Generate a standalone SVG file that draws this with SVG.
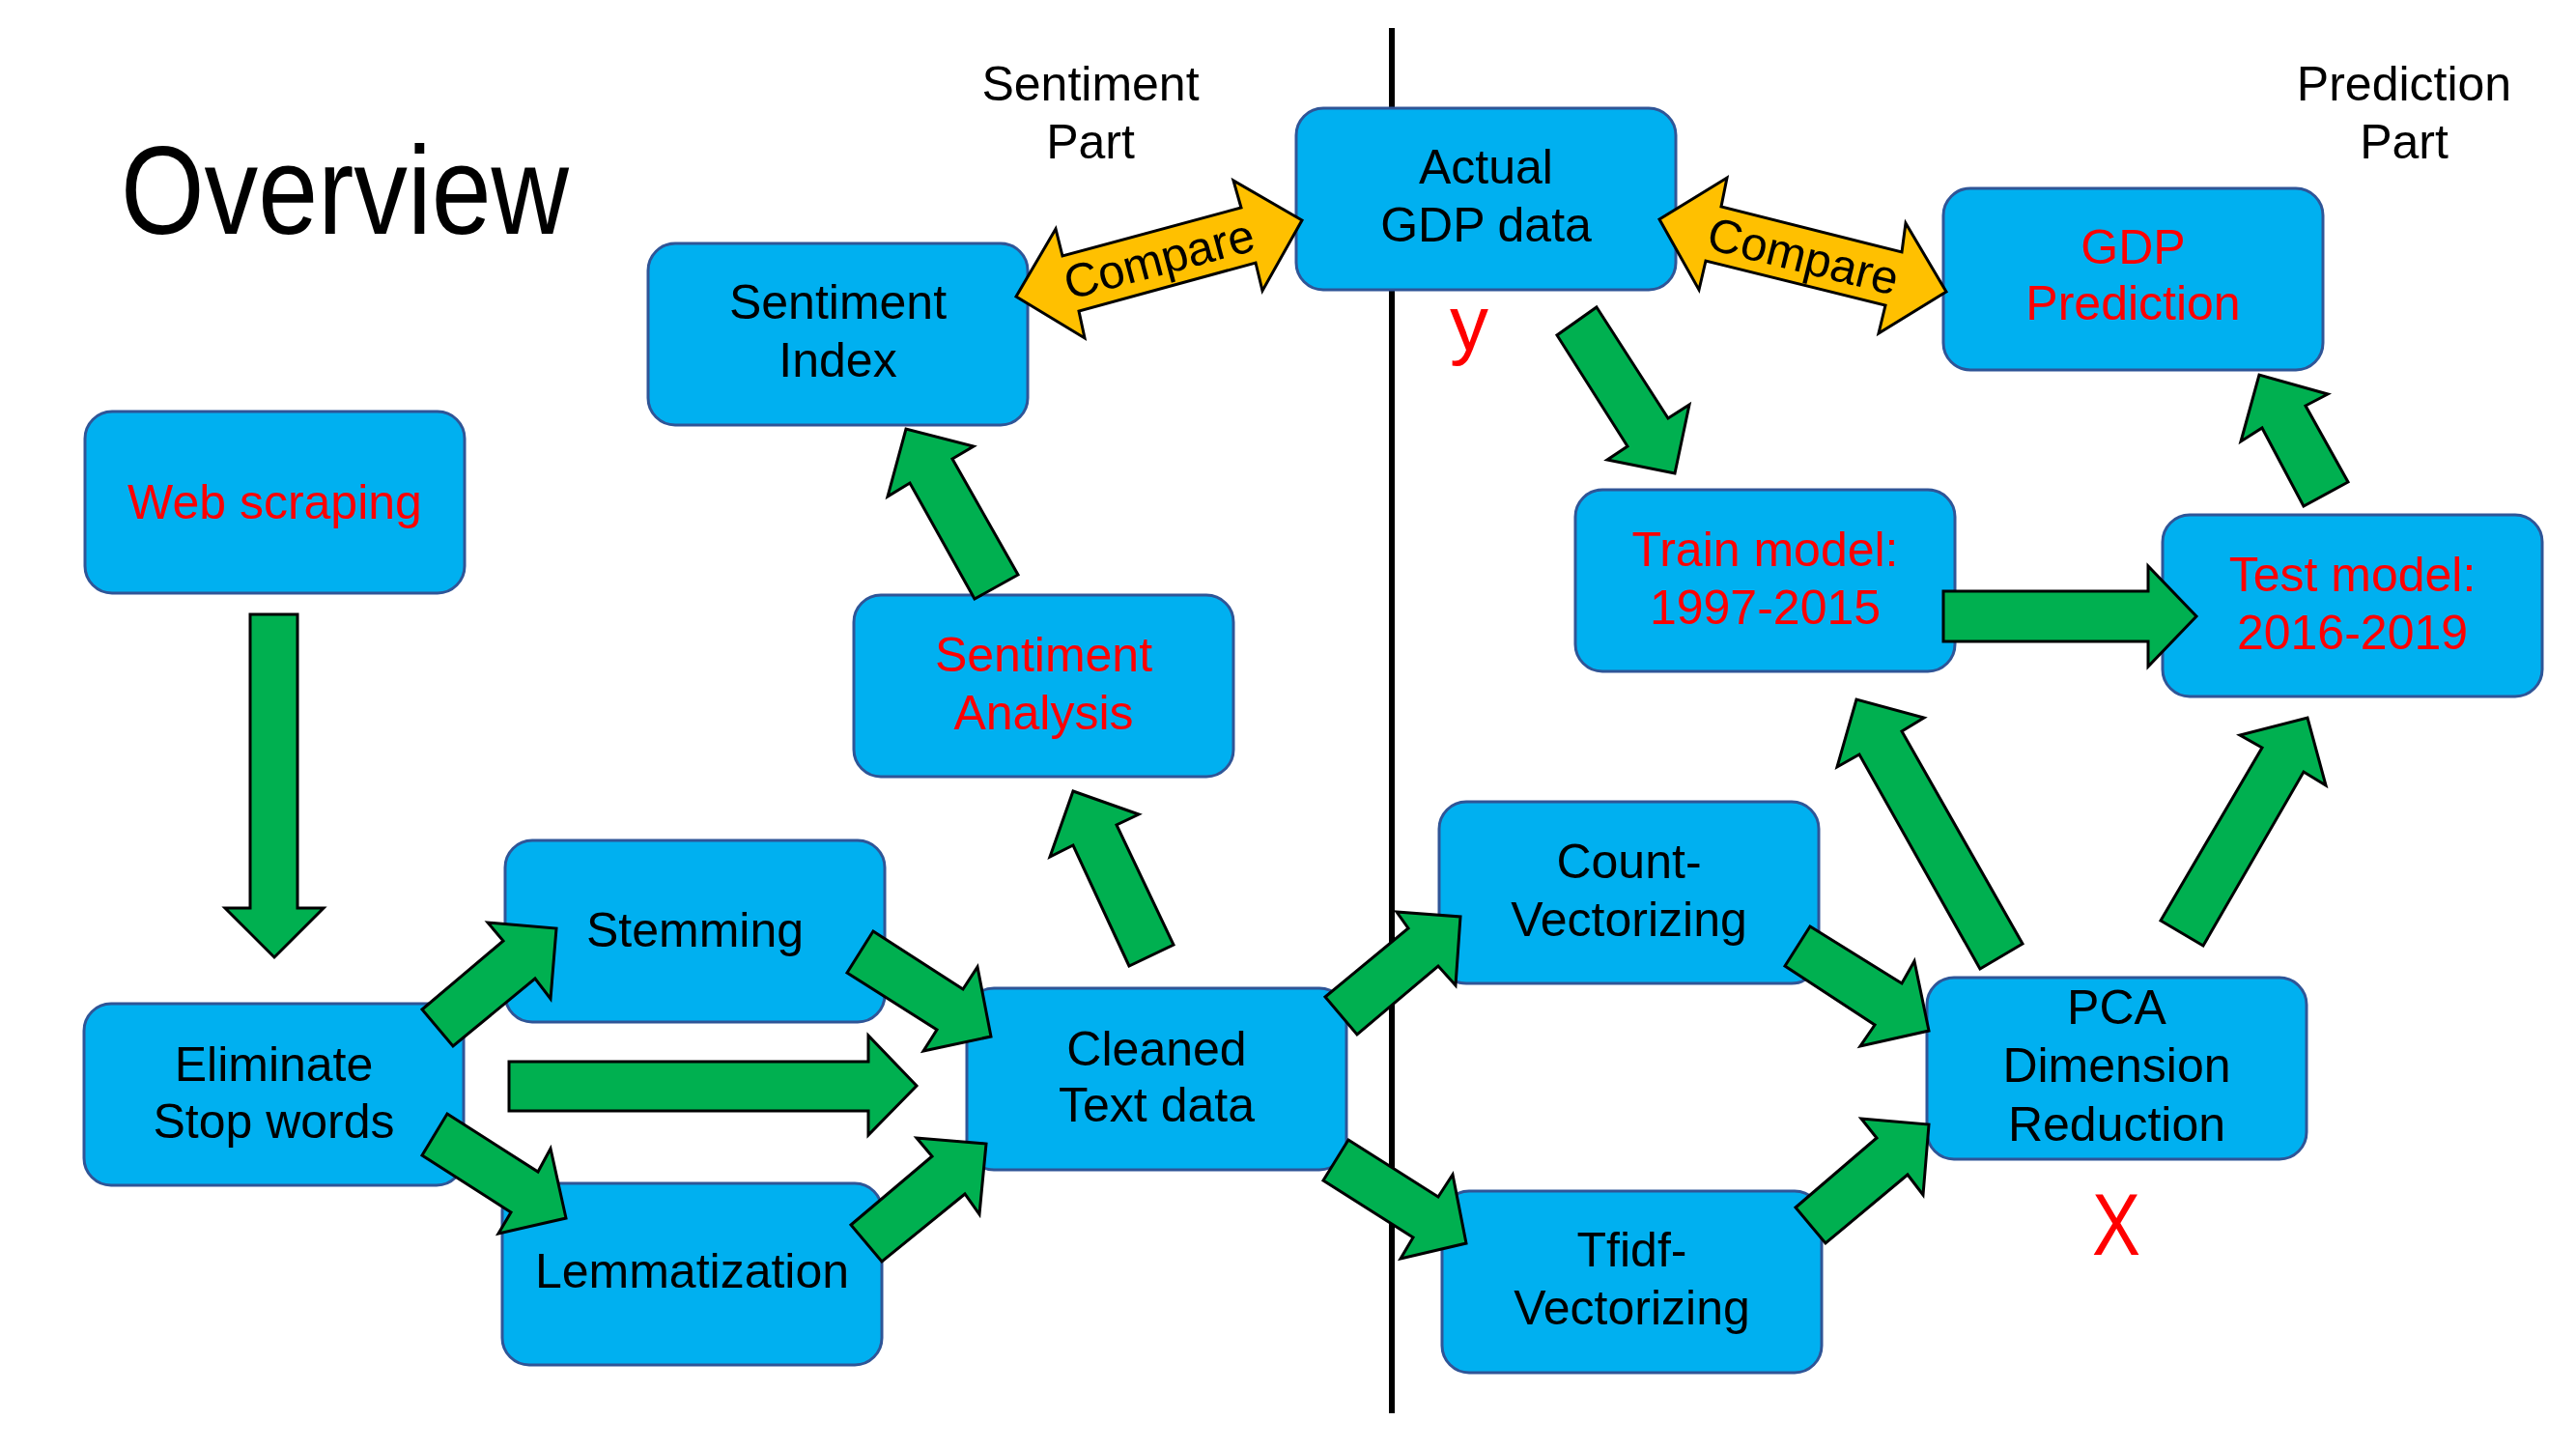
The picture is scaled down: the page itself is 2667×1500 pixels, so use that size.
<svg xmlns="http://www.w3.org/2000/svg" width="2667" height="1500" viewBox="0 0 2667 1500">
<style>
.box{fill:#00B0F0;stroke:#2F5597;stroke-width:3}
.t{font-family:"Liberation Sans",Arial,sans-serif;font-size:50px;text-anchor:middle;fill:#000}
.r{fill:#FF0000}
.ga{fill:#00B050;stroke:#000;stroke-width:3;stroke-linejoin:miter}
.ya{fill:#FFC000;stroke:#000;stroke-width:3;stroke-linejoin:miter}
.cmp{font-family:"Liberation Sans",Arial,sans-serif;font-size:49px;text-anchor:middle;dominant-baseline:central;fill:#000}
</style>
<rect width="2667" height="1500" fill="#FFFFFF"/>
<line x1="1441" y1="29" x2="1441" y2="1463" stroke="#000" stroke-width="6"/>
<text x="125" y="242" font-family="Liberation Sans,Arial,sans-serif" font-size="130" textLength="464" lengthAdjust="spacingAndGlyphs" fill="#000">Overview</text>
<text class="t" x="1129" y="104">Sentiment</text>
<text class="t" x="1129" y="164">Part</text>
<text class="t" x="2489" y="104">Prediction</text>
<text class="t" x="2489" y="164">Part</text>
<text x="1521" y="362" font-family="Liberation Sans,Arial,sans-serif" font-size="80" text-anchor="middle" fill="#FF0000">y</text>
<text x="2191" y="1299" font-family="Liberation Sans,Arial,sans-serif" font-size="90" text-anchor="middle" textLength="50" lengthAdjust="spacingAndGlyphs" fill="#FF0000">X</text>

<g id="web-scraping"><rect class="box" x="88" y="426" width="393" height="188" rx="28"/><text class="t r" x="284.5" y="537">Web scraping</text></g>
<g id="eliminate-stop-words"><rect class="box" x="87" y="1039" width="393" height="188" rx="28"/><text class="t" x="283.5" y="1119">Eliminate</text><text class="t" x="283.5" y="1178">Stop words</text></g>
<g id="stemming"><rect class="box" x="523" y="870" width="393" height="188" rx="28"/><text class="t" x="719.5" y="980">Stemming</text></g>
<g id="lemmatization"><rect class="box" x="520" y="1225" width="393" height="188" rx="28"/><text class="t" x="716.5" y="1333">Lemmatization</text></g>
<g id="cleaned-text-data"><rect class="box" x="1001" y="1023" width="393" height="188" rx="28"/><text class="t" x="1197.5" y="1103">Cleaned</text><text class="t" x="1197.5" y="1161">Text data</text></g>
<g id="sentiment-analysis"><rect class="box" x="884" y="616" width="393" height="188" rx="28"/><text class="t r" x="1080.5" y="695">Sentiment</text><text class="t r" x="1080.5" y="755">Analysis</text></g>
<g id="sentiment-index"><rect class="box" x="671" y="252" width="393" height="188" rx="28"/><text class="t" x="867.5" y="330">Sentiment</text><text class="t" x="867.5" y="390">Index</text></g>
<g id="actual-gdp-data"><rect class="box" x="1342" y="112" width="393" height="188" rx="28"/><text class="t" x="1538.5" y="190">Actual</text><text class="t" x="1538.5" y="250">GDP data</text></g>
<g id="gdp-prediction"><rect class="box" x="2012" y="195" width="393" height="188" rx="28"/><text class="t r" x="2208.5" y="273">GDP</text><text class="t r" x="2208.5" y="331">Prediction</text></g>
<g id="train-model"><rect class="box" x="1631" y="507" width="393" height="188" rx="28"/><text class="t r" x="1827.5" y="586">Train model:</text><text class="t r" x="1827.5" y="646">1997-2015</text></g>
<g id="test-model"><rect class="box" x="2239" y="533" width="393" height="188" rx="28"/><text class="t r" x="2435.5" y="612">Test model:</text><text class="t r" x="2435.5" y="672">2016-2019</text></g>
<g id="count-vectorizing"><rect class="box" x="1490" y="830" width="393" height="188" rx="28"/><text class="t" x="1686.5" y="909">Count-</text><text class="t" x="1686.5" y="969">Vectorizing</text></g>
<g id="tfidf-vectorizing"><rect class="box" x="1493" y="1233" width="393" height="188" rx="28"/><text class="t" x="1689.5" y="1311">Tfidf-</text><text class="t" x="1689.5" y="1371">Vectorizing</text></g>
<g id="pca-dimension-reduction"><rect class="box" x="1995" y="1012" width="393" height="188" rx="28"/><text class="t" x="2191.5" y="1060">PCA</text><text class="t" x="2191.5" y="1120">Dimension</text><text class="t" x="2191.5" y="1181">Reduction</text></g>

<g id="connectors">
<polygon class="ga" points="259,636 308,636 308,940 335,940 284,991 233,940 259,940"/>
<polygon class="ga" points="437,1045 521,974 505,955 576,961 570,1034 554,1013 469,1083"/>
<polygon class="ga" points="463,1153 557,1213 570,1189 586,1261 516,1277 529,1255 437,1196"/>
<polygon class="ga" points="527,1099 899,1099 899,1072 949,1124 899,1175 899,1150 527,1150"/>
<polygon class="ga" points="904,964 997,1024 1012,1001 1026,1073 956,1088 970,1066 877,1007"/>
<polygon class="ga" points="881,1268 965,1197 949,1178 1021,1184 1014,1257 999,1236 913,1306"/>
<polygon class="ga" points="1169,1000 1111,875 1087,887 1111,819 1179,843 1156,854 1215,978"/>
<polygon class="ga" points="1009,620 942,500 919,514 938,444 1008,462 986,475 1054,595"/>
<polygon class="ga" points="1653,318 1727,433 1749,419 1734,490 1664,476 1685,462 1612,347"/>
<polygon class="ga" points="2012,612 2224,612 2224,586 2274,638 2224,690 2224,664 2012,664"/>
<polygon class="ga" points="2385,524 2342,443 2320,457 2339,388 2410,408 2387,420 2431,499"/>
<polygon class="ga" points="1372,1032 1458,961 1446,944 1512,949 1507,1020 1489,1000 1405,1071"/>
<polygon class="ga" points="1396,1180 1489,1239 1504,1216 1518,1287 1450,1303 1463,1281 1370,1222"/>
<polygon class="ga" points="1874,959 1969,1018 1982,995 1997,1067 1926,1083 1941,1061 1848,1000"/>
<polygon class="ga" points="1859,1250 1943,1178 1927,1158 1997,1164 1991,1237 1975,1216 1890,1287"/>
<polygon class="ga" points="2050,1003 1925,781 1902,794 1922,724 1992,743 1969,757 2094,977"/>
<polygon class="ga" points="2237,953 2342,774 2319,761 2389,743 2408,813 2385,799 2281,979"/>
<polygon class="ya" points="1052,307 1093,237 1100,265 1285,215 1277,187 1348,228 1307,301 1300,272 1117,322 1123,350"/>
<text class="cmp" transform="translate(1200,268) rotate(-15)">Compare</text>
<polygon class="ya" points="1718,227 1788,184 1782,214 1969,261 1973,231 2015,302 1945,345 1952,316 1766,270 1759,300"/>
<text class="cmp" transform="translate(1867,265) rotate(14)">Compare</text>
</g>
</svg>
